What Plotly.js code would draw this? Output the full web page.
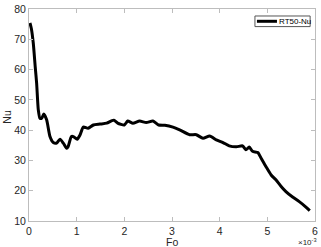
<!DOCTYPE html>
<html><head><meta charset="utf-8">
<script src="https://cdn.plot.ly/plotly-3.0.1.min.js"></script>
<style>html,body{margin:0;padding:0;background:#fff}#c{width:321px;height:247px}</style>
</head><body><div id="c"></div>
<script>
var fo = [0.02,0.05,0.09,0.13,0.16,0.195,0.23,0.27,0.31,0.37,0.44,0.51,0.58,0.65,0.72,0.79,0.82,0.89,0.94,1.01,1.07,1.14,1.24,1.35,1.49,1.63,1.72,1.78,1.86,2.0,2.07,2.18,2.32,2.46,2.6,2.72,2.85,3.02,3.16,3.37,3.51,3.65,3.79,3.93,4.07,4.2,4.35,4.48,4.55,4.62,4.69,4.8,4.87,4.97,5.08,5.18,5.29,5.39,5.53,5.67,5.81,5.89];
var nu = [75.4,73.5,68.7,61,55.5,46.7,43.9,44,45.3,43.4,37.9,35.9,35.7,37,35.7,34,34.5,37.9,37.8,37,38.4,41,40.6,41.7,42,42.3,43,43.3,42.3,41.7,43,42.3,43,42.5,43,41.7,41.6,41,40.1,38.5,38.5,37.3,38.1,36.8,35.9,34.8,34.5,34.8,33.5,34.4,33,32.6,30.7,28,25.2,23.6,21.4,19.7,17.9,16.4,14.6,13.4];
var xTicks = [0,1,2,3,4,5,6];
var yTicks = [10,20,30,40,50,60,70,80];
var seriesName = 'RT50-Nu';
var F = 'Arial, Liberation Sans, sans-serif';
var axisCommon = {showline:true, linecolor:'#bdbdbd', linewidth:1, mirror:'ticks', ticks:'inside', ticklen:4, tickcolor:'#bdbdbd', showgrid:false, zeroline:false, tickfont:{family:F, size:10.5, color:'#262626'}};
Plotly.newPlot('c', [{x:fo, y:nu, type:'scatter', mode:'lines', name:seriesName, showlegend:false, line:{color:'#000', width:3, shape:'spline', smoothing:0.6}}], {
  width:321, height:247,
  margin:{l:29, r:6, t:9, b:26},
  paper_bgcolor:'#fff', plot_bgcolor:'#fff',
  xaxis:Object.assign({range:[0,6], tickvals:xTicks, ticktext:xTicks.map(String)}, axisCommon),
  yaxis:Object.assign({range:[10,80], tickvals:yTicks, ticktext:yTicks.map(String)}, axisCommon),
  showlegend:false,
  shapes:[
    {type:'rect', xref:'paper', yref:'paper', x0:0.790, x1:0.983, y0:0.917, y1:0.967, line:{color:'#555', width:1}, fillcolor:'#fff'},
    {type:'line', xref:'paper', yref:'paper', x0:0.797, x1:0.867, y0:0.942, y1:0.942, line:{color:'#000', width:3}}
  ],
  annotations:[
    {text:seriesName, xref:'paper', yref:'paper', x:0.868, y:0.942, xanchor:'left', yanchor:'middle', showarrow:false, font:{family:F, size:8, color:'#000'}},
    {text:'Nu', xref:'paper', yref:'paper', x:-0.075, y:0.49, xanchor:'center', yanchor:'middle', showarrow:false, textangle:-90, font:{family:F, size:10.5, color:'#262626'}},
    {text:'Fo', xref:'paper', yref:'paper', x:0.5, y:-0.1, xanchor:'center', yanchor:'middle', showarrow:false, font:{family:F, size:10.5, color:'#262626'}},
    {text:'×10<sup>-3</sup>', xref:'paper', yref:'paper', x:1.015, y:-0.1, xanchor:'right', yanchor:'middle', showarrow:false, font:{family:F, size:8, color:'#262626'}}
  ]
}, {staticPlot:true});
</script></body></html>
